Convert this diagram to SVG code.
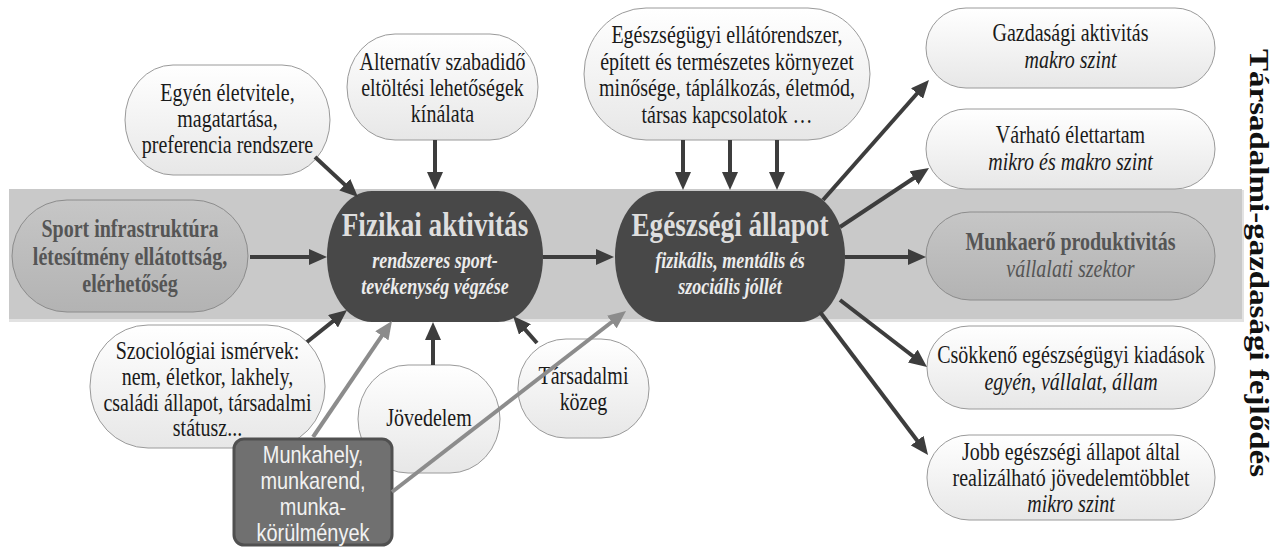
<svg xmlns="http://www.w3.org/2000/svg" width="1285" height="549" viewBox="0 0 1285 549">
<style>
.t{font-family:"Liberation Serif","Times New Roman",serif;font-size:25px;fill:#1a1a1a;text-anchor:middle}
.i{font-style:italic}
.sp{font-weight:bold;fill:#555}
.title{font-size:34px;font-weight:bold;fill:#dedede}
.sub{font-size:22.5px;font-weight:bold;font-style:italic;fill:#ececec}
.light{fill:url(#gl);stroke:#9a9a9a;stroke-width:1}
.mid{fill:url(#gm);stroke:#8c8c8c;stroke-width:1}
.dark{fill:#484848}
.c{stroke:#3d3d3d;stroke-width:4;fill:none;marker-end:url(#ah)}
.g{stroke:#8c8c8c;stroke-width:4;fill:none;marker-end:url(#ag)}
.w{font-family:"Liberation Sans",Arial,sans-serif;font-size:24px;fill:#f2f2f2;text-anchor:middle}
</style>
<defs>
<linearGradient id="gl" x1="0" y1="0" x2="0" y2="1"><stop offset="0" stop-color="#ffffff"/><stop offset="1" stop-color="#e7e7e7"/></linearGradient>
<linearGradient id="gm" x1="0" y1="0" x2="0" y2="1"><stop offset="0" stop-color="#c6c6c6"/><stop offset="1" stop-color="#b3b3b3"/></linearGradient>
<marker id="ah" markerUnits="userSpaceOnUse" markerWidth="18" markerHeight="16" refX="9" refY="8" orient="auto"><path d="M0,0 L18,8 L0,16 z" fill="#3d3d3d"/></marker>
<marker id="ag" markerUnits="userSpaceOnUse" markerWidth="18" markerHeight="16" refX="9" refY="8" orient="auto"><path d="M0,0 L18,8 L0,16 z" fill="#8c8c8c"/></marker>
</defs>
<rect width="1285" height="549" fill="#ffffff"/>
<rect x="9" y="190" width="1235" height="132" fill="#e2e2e2"/>
<rect id="band" x="9" y="189" width="1233" height="130" fill="#c9c9c9"/>

<g id="egyen">
<rect class="light" x="125" y="65" width="205" height="110" rx="48" ry="55"/>
<g transform="matrix(0.8 0 0 1 45.5 0)">
<text class="t" x="227.5" y="101">Egyén életvitele,</text>
<text class="t" x="227.5" y="127">magatartása,</text>
<text class="t" x="227.5" y="153">preferencia rendszere</text>
</g>
</g>

<g id="alternativ">
<rect class="light" x="347" y="34" width="191" height="106" rx="48" ry="53"/>
<g transform="matrix(0.8 0 0 1 88.5 0)">
<text class="t" x="442.5" y="70">Alternatív szabadidő</text>
<text class="t" x="442.5" y="96">eltöltési lehetőségek</text>
<text class="t" x="442.5" y="122">kínálata</text>
</g>
</g>

<g id="egeszsegugyi">
<rect class="light" x="584" y="8" width="286" height="132" rx="62" ry="66"/>
<g transform="matrix(0.8 0 0 1 145.4 0)">
<text class="t" x="727" y="43">Egészségügyi ellátórendszer,</text>
<text class="t" x="727" y="70">épített és természetes környezet</text>
<text class="t" x="727" y="96">minősége, táplálkozás, életmód,</text>
<text class="t" x="727" y="123">társas kapcsolatok …</text>
</g>
</g>

<g id="sport">
<rect class="mid" x="12" y="200" width="236" height="112" rx="55" ry="56"/>
<g transform="matrix(0.8 0 0 1 26 0)">
<text class="t sp" x="130" y="237">Sport infrastruktúra</text>
<text class="t sp" x="130" y="265">létesítmény ellátottság,</text>
<text class="t sp" x="130" y="292">elérhetőség</text>
</g>
</g>

<g id="fizikai">
<rect class="dark" x="327" y="191" width="216" height="131" rx="45" ry="65"/>
<g transform="matrix(0.8 0 0 1 87 0)">
<text class="t title" x="435" y="236">Fizikai aktivitás</text>
<text class="t sub" x="435" y="268">rendszeres sport-</text>
<text class="t sub" x="435" y="294">tevékenység végzése</text>
</g>
</g>

<g id="egeszsegi">
<rect class="dark" x="615" y="191" width="230" height="131" rx="45" ry="65"/>
<g transform="matrix(0.8 0 0 1 146 0)">
<text class="t title" x="730" y="236">Egészségi állapot</text>
<text class="t sub" x="730" y="268">fizikális, mentális és</text>
<text class="t sub" x="730" y="294">szociális jóllét</text>
</g>
</g>

<g id="gazdasagi">
<rect class="light" x="926" y="8" width="289" height="80" rx="40" ry="40"/>
<g transform="matrix(0.8 0 0 1 214.1 0)">
<text class="t" x="1070.5" y="41">Gazdasági aktivitás</text>
<text class="t i" x="1070.5" y="68">makro szint</text>
</g>
</g>

<g id="varhato">
<rect class="light" x="926" y="109" width="289" height="80" rx="40" ry="40"/>
<g transform="matrix(0.8 0 0 1 214.1 0)">
<text class="t" x="1070.5" y="143">Várható élettartam</text>
<text class="t i" x="1070.5" y="170">mikro és makro szint</text>
</g>
</g>

<g id="munkaero">
<rect class="mid" x="926" y="212" width="289" height="88" rx="44" ry="44"/>
<g transform="matrix(0.8 0 0 1 214.1 0)">
<text class="t sp" x="1070.5" y="250">Munkaerő produktivitás</text>
<text class="t i" x="1070.5" y="277" style="fill:#555">vállalati szektor</text>
</g>
</g>

<g id="csokkeno">
<rect class="light" x="927" y="326" width="288" height="83" rx="42" ry="41"/>
<g transform="matrix(0.8 0 0 1 214.2 0)">
<text class="t" x="1071" y="363">Csökkenő egészségügyi kiadások</text>
<text class="t i" x="1071" y="390">egyén, vállalat, állam</text>
</g>
</g>

<g id="jobb">
<rect class="light" x="927" y="435" width="288" height="85" rx="42" ry="42"/>
<g transform="matrix(0.8 0 0 1 214.2 0)">
<text class="t" x="1071" y="460">Jobb egészségi állapot által</text>
<text class="t" x="1071" y="486">realizálható jövedelemtöbblet</text>
<text class="t i" x="1071" y="512">mikro szint</text>
</g>
</g>

<g id="szociologiai">
<rect class="light" x="90" y="325" width="235" height="123" rx="58" ry="61"/>
<g transform="matrix(0.8 0 0 1 41.5 0)">
<text class="t" x="207.5" y="359">Szociológiai ismérvek:</text>
<text class="t" x="207.5" y="385">nem, életkor, lakhely,</text>
<text class="t" x="207.5" y="411">családi állapot, társadalmi</text>
<text class="t" x="207.5" y="436">státusz...</text>
</g>
</g>

<g id="jovedelem">
<rect class="light" x="358" y="365" width="142" height="108" rx="50" ry="54"/>
<g transform="matrix(0.8 0 0 1 85.8 0)">
<text class="t" x="429" y="426">Jövedelem</text>
</g>
</g>

<g id="tarsadalmi">
<rect class="light" x="518" y="339" width="131" height="99" rx="48" ry="49"/>
<g transform="matrix(0.8 0 0 1 116.7 0)">
<text class="t" x="583.5" y="384">Társadalmi</text>
<text class="t" x="583.5" y="410">közeg</text>
</g>
</g>

<g id="munkahely">
<rect x="234" y="439" width="158" height="106" rx="10" ry="10" fill="#707070" stroke="#505050" stroke-width="3"/>
<g transform="matrix(0.83 0 0 1 53.21 0)">
<text class="w" x="313" y="463">Munkahely,</text>
<text class="w" x="313" y="489">munkarend,</text>
<text class="w" x="313" y="515">munka-</text>
<text class="w" x="313" y="541">körülmények</text>
</g>
</g>

<g id="vertical-label">
<text transform="translate(1250,263) rotate(90) scale(1,0.8)" x="0" y="0" style="font-family:'Liberation Serif','Times New Roman',serif;font-size:33px;font-weight:bold;fill:#111;text-anchor:middle">Társadalmi-gazdasági fejlődés</text>
</g>

<g id="connectors">
<line class="c" x1="250" y1="257" x2="318" y2="257"/>
<line class="c" x1="543" y1="257" x2="605" y2="257"/>
<line class="c" x1="845" y1="257" x2="917" y2="257"/>
<line class="c" x1="435" y1="140" x2="435" y2="181"/>
<line class="c" x1="683" y1="140" x2="683" y2="181"/>
<line class="c" x1="730" y1="140" x2="730" y2="181"/>
<line class="c" x1="777" y1="140" x2="777" y2="181"/>
<line class="c" x1="315" y1="157" x2="351.4" y2="190.9"/>
<line class="c" x1="823" y1="200" x2="923" y2="86.8"/>
<line class="c" x1="840" y1="227" x2="921.5" y2="173"/>
<line class="c" x1="840" y1="300" x2="919.9" y2="361.5"/>
<line class="c" x1="820" y1="312" x2="922.6" y2="447.8"/>
<line class="c" x1="307" y1="342" x2="340" y2="315.6"/>
<line class="c" x1="433" y1="365" x2="433" y2="331"/>
<line class="c" x1="537" y1="343" x2="519" y2="322.7"/>
<line class="g" x1="313" y1="437" x2="386.9" y2="328.4"/>
<line class="g" x1="392" y1="492" x2="618.9" y2="316.5"/>
</g>
</svg>
